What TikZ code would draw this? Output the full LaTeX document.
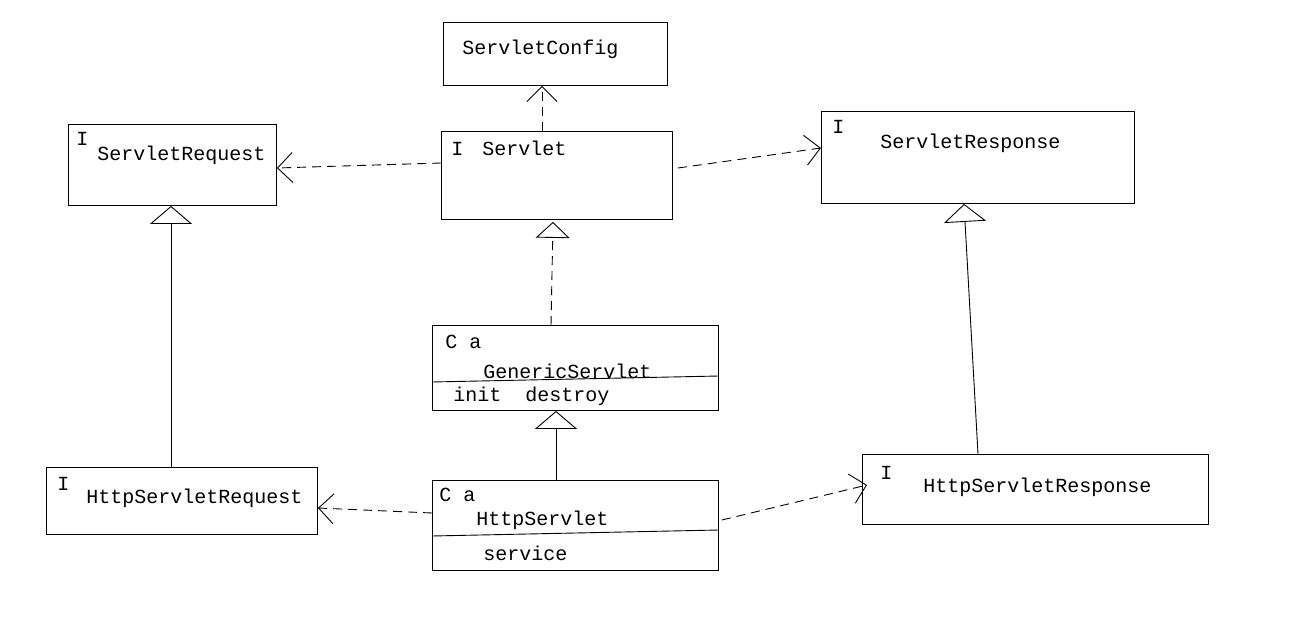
\documentclass[tikz,border=0pt]{standalone}
\usepackage{fontspec}
\setmonofont{Liberation Mono}
\usepackage{tikz}
\usetikzlibrary{arrows.meta}

\begin{document}
\begin{tikzpicture}[x=1pt, y=-1pt, line width=0.9pt,
			box/.style = {shape=rectangle, draw, anchor=north west, inner sep=0pt},
			txt/.style = {anchor=base west, inner sep=0pt, font=\ttfamily\fontsize{20}{24}\selectfont}]
			\tikzset{dep/.style={dash pattern=on 9pt off 6pt, -{Straight Barb[length=15pt,width=30pt]}},
				impl/.style={dash pattern=on 9pt off 6pt, -{Triangle[open,length=16pt,width=34pt]}},
				ext/.style={-{Triangle[open,length=18pt,width=42pt]}}}
			\useasboundingbox (0,0) rectangle (1304,618);
			\node[box, minimum width=224pt, minimum height=63pt] (cfg) at (443,22) {};
			\node[box, minimum width=231pt, minimum height=88pt] (srv) at (441,131) {};
			\node[box, minimum width=208pt, minimum height=81pt] (req) at (68,124) {};
			\node[box, minimum width=313pt, minimum height=92pt] (rsp) at (821,111) {};
			\node[box, minimum width=286pt, minimum height=85pt] (gen) at (432,325) {};
			\node[box, minimum width=286pt, minimum height=90pt] (http) at (432,480) {};
			\node[box, minimum width=271pt, minimum height=67pt] (hreq) at (46,467) {};
			\node[box, minimum width=346pt, minimum height=70pt] (hrsp) at (862,454) {};
			\node[txt] (cfgname) at (462,55) {ServletConfig};
			\node[txt] (srvi) at (451,155) {I};
			\node[txt] (srvname) at (482,155) {Servlet};
			\node[txt] (reqi) at (76,145) {I};
			\node[txt] (reqname) at (97,160) {ServletRequest};
			\node[txt] (rspi) at (832,133) {I};
			\node[txt] (rspname) at (880,148) {ServletResponse};
			\node[txt] (geni) at (445,348) {C a};
			\node[txt] (genname) at (483,378) {GenericServlet};
			\node[txt] (genops) at (453,401) {init\ \ destroy};
			\node[txt] (httpi) at (439,501) {C a};
			\node[txt] (httpname) at (476,525) {HttpServlet};
			\node[txt] (httpops) at (483,560) {service};
			\node[txt] (hreqi) at (57,490) {I};
			\node[txt] (hreqname) at (86,503) {HttpServletRequest};
			\node[txt] (hrspi) at (880,479) {I};
			\node[txt] (hrspname) at (923,492) {HttpServletResponse};
			\draw ([shift={(0,57)}]gen.north west) -- ([shift={(0,51)}]gen.north east);
			\draw ([shift={(0,56)}]http.north west) -- ([shift={(0,50)}]http.north east);
			\draw[dep] ([shift={(101,0)}]srv.north west) -- ([shift={(99,0)}]cfg.south west);
			\draw[dep] ([shift={(0,32)}]srv.north west) -- ([shift={(0,44)}]req.north east);
			\draw[dep] ([shift={(5,37)}]srv.north east) -- ([shift={(0,37)}]rsp.north west);
			\draw[impl] ([shift={(119,0)}]gen.north west) -- ([shift={(112,2)}]srv.south west);
			\draw[ext] ([shift={(124,0)}]http.north west) -- ([shift={(124,0)}]gen.south west);
			\draw[ext] ([shift={(125,0)}]hreq.north west) -- ([shift={(103,0)}]req.south west);
			\draw[ext] ([shift={(116,0)}]hrsp.north west) -- ([shift={(143,0)}]rsp.south west);
			\draw[dep] ([shift={(0,33)}]http.north west) -- ([shift={(0,41)}]hreq.north east);
			\draw[dep] ([shift={(3,40)}]http.north east) -- ([shift={(5,31)}]hrsp.north west);
		\end{tikzpicture}
\end{document}
